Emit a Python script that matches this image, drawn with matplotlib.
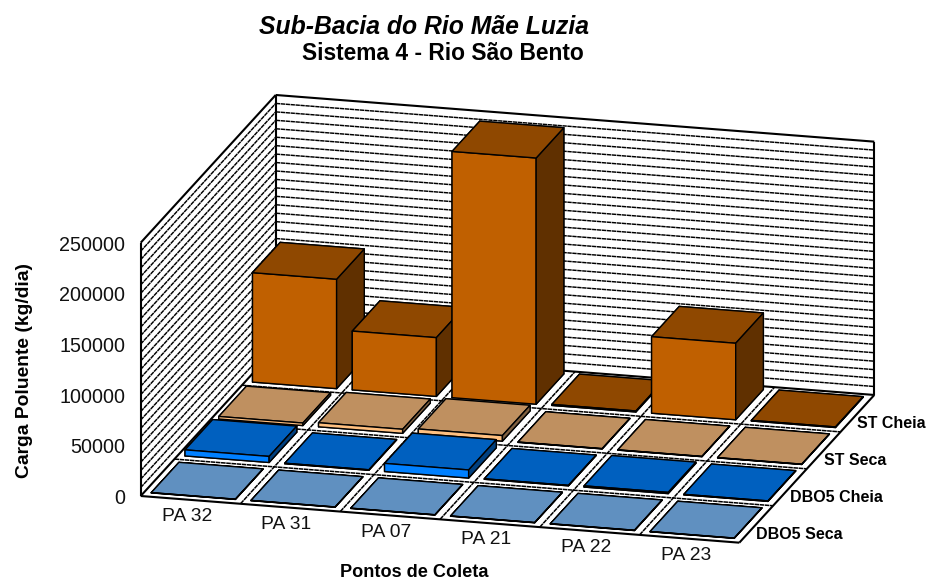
import numpy as np
import matplotlib
matplotlib.use("Agg")
import matplotlib.pyplot as plt
from mpl_toolkits.mplot3d.art3d import Line3DCollection

plt.rcParams['font.family'] = ['Liberation Sans', 'DejaVu Sans']

categories = ["PA 32", "PA 31", "PA 07", "PA 21", "PA 22", "PA 23"]
series_names = ["DBO5 Seca", "DBO5 Cheia", "ST Seca", "ST Cheia"]
dbo5_seca = [250, 250, 250, 250, 300, 250]
dbo5_cheia = [6000, 500, 8000, 500, 1200, 500]
st_seca = [2500, 4000, 5500, 300, 300, 300]
st_cheia = [108000, 58000, 243000, 1000, 75500, 600]
series_values = [dbo5_seca, dbo5_cheia, st_seca, st_cheia]
z_ticks = [0, 50000, 100000, 150000, 200000, 250000]
# face colours: front, top, side
series_colors = [
    ("#80C0FF", "#6090C0", "#406080"),
    ("#0080FF", "#0060BF", "#004080"),
    ("#FFC080", "#BF9060", "#806040"),
    ("#C06000", "#8F4800", "#603000"),
]

W, H = 927, 580
ORIGIN = (140.7, 496.0)
UX = (99.77, 7.78)
UY = (33.75, -36.93)
K = 253.3 / 250000
ZMAX = 250000
N_GRID = 30

fig = plt.figure(figsize=(W / 100, H / 100), dpi=100)
ax = fig.add_axes([0, 0, 1, 1], projection='3d')
ax.apply_aspect = lambda position=None: None
ax.set_axis_off()
ax.computed_zorder = False


def get_proj():
    T = ax.transData.inverted().get_matrix()
    dx = np.array([UX[0], UY[0], 0, ORIGIN[0]])
    dy = np.array([-UX[1], -UY[1], K, H - ORIGIN[1]])
    w = np.array([0, 0, 0, 1.0])
    return np.array([
        T[0, 0] * dx + T[0, 1] * dy + T[0, 2] * w,
        T[1, 0] * dx + T[1, 1] * dy + T[1, 2] * w,
        [-1.0, 1.0, -1e-5, 0.0],
        w,
    ])


ax.get_proj = get_proj


def to_px(x, y, z):
    """Image position (pixels from the top left) of a point of the 3D scales."""
    return (ORIGIN[0] + x * UX[0] + y * UY[0],
            ORIGIN[1] + x * UX[1] + y * UY[1] - z * K)


def label(x, y, z, s, dx=0, dy=0, **kw):
    px, py = to_px(x, y, z)
    fig.text((px + dx) / W, 1 - (py + dy) / H, s, **kw)


nx, ny = len(categories), len(series_names)


def add_lines(segments, lw, ls, z):
    lc = Line3DCollection(segments, colors='black', linewidths=lw, linestyles=ls)
    lc.set_zorder(z)
    ax.add_collection3d(lc)
    lc.set_clip_on(False)


dotted = (0, (3, 0.4))
grid_segments = []
for g in np.linspace(0, ZMAX, N_GRID + 1)[1:-1]:
    grid_segments.append([(0, 0, g), (0, ny, g)])
    grid_segments.append([(0, ny, g), (nx, ny, g)])
add_lines(grid_segments, 1.05, dotted, 2)

floor_segments = []
for i in range(1, nx):
    floor_segments.append([(i, 0, 0), (i, ny, 0)])
for j in range(1, ny):
    floor_segments.append([(0, j, 0), (nx, j, 0)])
add_lines(floor_segments, 1.1, dotted, 2)

frame_segments = [
    [(0, 0, 0), (0, 0, ZMAX)],
    [(0, 0, ZMAX), (0, ny, ZMAX)],
    [(0, ny, ZMAX), (nx, ny, ZMAX)],
    [(nx, ny, 0), (nx, ny, ZMAX)],
    [(0, ny, 0), (0, ny, ZMAX)],
    [(0, 0, 0), (0, ny, 0)],
    [(0, ny, 0), (nx, ny, 0)],
    [(0, 0, 0), (nx, 0, 0)],
    [(nx, 0, 0), (nx, ny, 0)],
]
add_lines(frame_segments, 1.5, '-', 3)

# bars, back row first, left to right
order = 10
for j in range(ny - 1, -1, -1):
    front, top, side = series_colors[j]
    for i in range(nx):
        col = ax.bar3d(i + 0.072, j + 0.10, 0, 0.843, 0.82, series_values[j][i],
                       color=[front, top, front, front, side, side],
                       shade=False, edgecolor='black', linewidth=1.0)
        col.set_zorder(order)
        col.set_clip_on(False)
        order += 1

# text
for v in z_ticks:
    label(0, 0, v, str(v), dx=-15.2, dy=2.5, ha='right', va='center', fontsize=14.2,
          color='#111111')
for i, c in enumerate(categories):
    label(i + 0.5, 0, 0, c, dx=-3.8, dy=16.7, ha='center', va='center', fontsize=13.9,
          color='#111111')
for j, s in enumerate(series_names):
    label(nx, j + 0.5, 0, s, dy=10.5, ha='left', va='center', fontsize=11.5,
          fontweight='bold')

fig.text(424 / W, 1 - 27.5 / H, "Sub-Bacia do Rio Mãe Luzia", ha='center', va='center',
         fontsize=17.8, fontweight='bold', fontstyle='italic')
fig.text(443.3 / W, 1 - 54 / H, "Sistema 4 - Rio São Bento", ha='center', va='center',
         fontsize=16.4, fontweight='bold')
fig.text(24.5 / W, 1 - 370 / H, "Carga Poluente (kg/dia)", rotation=90, ha='center', va='center',
         fontsize=13.9, fontweight='bold')
fig.text(414.5 / W, 1 - 572.5 / H, "Pontos de Coleta", ha='center', va='center',
         fontsize=13.1, fontweight='bold')

ax.set_xlim(0, nx)
ax.set_ylim(0, ny)
ax.set_zlim(0, ZMAX)
fig.savefig("out.png", dpi=100, facecolor='white')
